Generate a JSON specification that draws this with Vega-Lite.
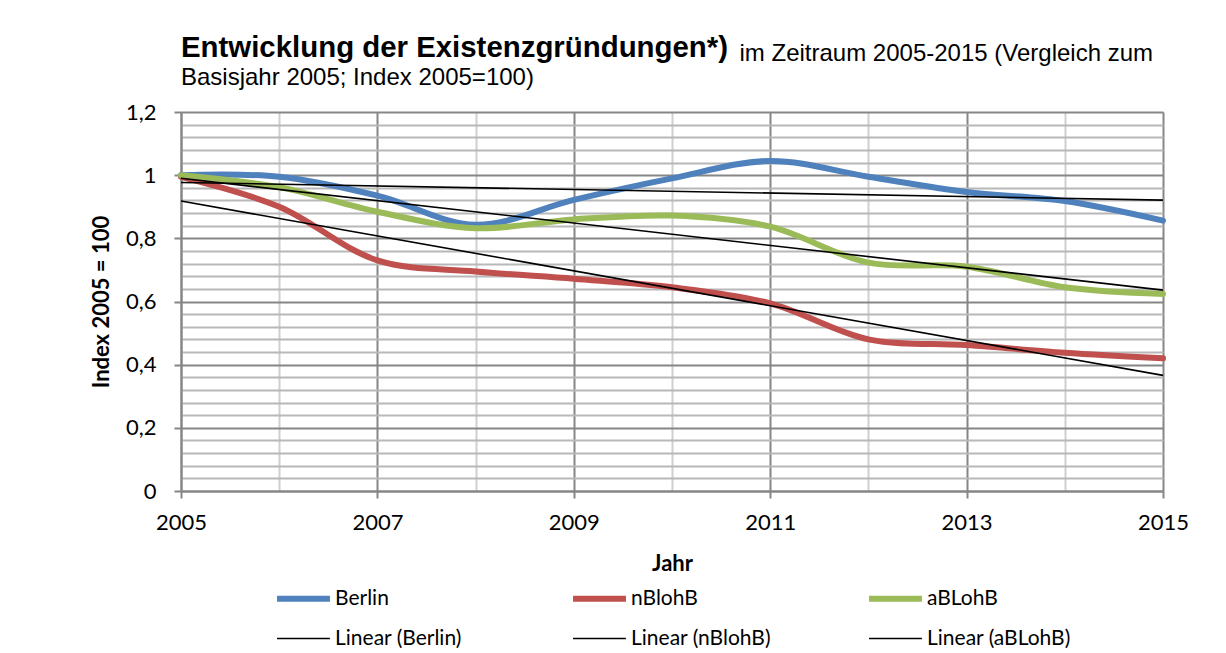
{
  "$schema": "https://vega.github.io/schema/vega-lite/v6.json",
  "width": 982,
  "height": 379,
  "autosize": {"type": "none"},
  "padding": {"left": 181, "top": 112, "right": 63, "bottom": 162},
  "background": "white",
  "title": {
    "text": "Entwicklung der Existenzgründungen*)",
    "subtitle": "Basisjahr 2005; Index 2005=100)",
    "anchor": "start",
    "frame": "group",
    "font": "Liberation Sans",
    "fontSize": 29.4,
    "fontWeight": "bold",
    "color": "#000000",
    "subtitleFont": "Liberation Sans",
    "subtitleFontSize": 24,
    "subtitleColor": "#000000",
    "subtitlePadding": 3,
    "offset": -50
  },
  "datasets": {
    "reihen": [
      {"Jahr": 2005, "Wert": 1.0, "Serie": "Berlin"},
      {"Jahr": 2006, "Wert": 0.995, "Serie": "Berlin"},
      {"Jahr": 2007, "Wert": 0.935, "Serie": "Berlin"},
      {"Jahr": 2008, "Wert": 0.843, "Serie": "Berlin"},
      {"Jahr": 2009, "Wert": 0.922, "Serie": "Berlin"},
      {"Jahr": 2010, "Wert": 0.99, "Serie": "Berlin"},
      {"Jahr": 2011, "Wert": 1.045, "Serie": "Berlin"},
      {"Jahr": 2012, "Wert": 0.995, "Serie": "Berlin"},
      {"Jahr": 2013, "Wert": 0.947, "Serie": "Berlin"},
      {"Jahr": 2014, "Wert": 0.918, "Serie": "Berlin"},
      {"Jahr": 2015, "Wert": 0.856, "Serie": "Berlin"},
      {"Jahr": 2005, "Wert": 0.995, "Serie": "nBlohB"},
      {"Jahr": 2006, "Wert": 0.9, "Serie": "nBlohB"},
      {"Jahr": 2007, "Wert": 0.73, "Serie": "nBlohB"},
      {"Jahr": 2008, "Wert": 0.695, "Serie": "nBlohB"},
      {"Jahr": 2009, "Wert": 0.672, "Serie": "nBlohB"},
      {"Jahr": 2010, "Wert": 0.645, "Serie": "nBlohB"},
      {"Jahr": 2011, "Wert": 0.594, "Serie": "nBlohB"},
      {"Jahr": 2012, "Wert": 0.48, "Serie": "nBlohB"},
      {"Jahr": 2013, "Wert": 0.462, "Serie": "nBlohB"},
      {"Jahr": 2014, "Wert": 0.438, "Serie": "nBlohB"},
      {"Jahr": 2015, "Wert": 0.42, "Serie": "nBlohB"},
      {"Jahr": 2005, "Wert": 1.0, "Serie": "aBLohB"},
      {"Jahr": 2006, "Wert": 0.962, "Serie": "aBLohB"},
      {"Jahr": 2007, "Wert": 0.884, "Serie": "aBLohB"},
      {"Jahr": 2008, "Wert": 0.832, "Serie": "aBLohB"},
      {"Jahr": 2009, "Wert": 0.86, "Serie": "aBLohB"},
      {"Jahr": 2010, "Wert": 0.872, "Serie": "aBLohB"},
      {"Jahr": 2011, "Wert": 0.837, "Serie": "aBLohB"},
      {"Jahr": 2012, "Wert": 0.723, "Serie": "aBLohB"},
      {"Jahr": 2013, "Wert": 0.71, "Serie": "aBLohB"},
      {"Jahr": 2014, "Wert": 0.645, "Serie": "aBLohB"},
      {"Jahr": 2015, "Wert": 0.624, "Serie": "aBLohB"}
    ],
    "trends": [
      {"Jahr": 2005, "Wert": 0.977, "Serie": "Linear (Berlin)"},
      {"Jahr": 2015, "Wert": 0.921, "Serie": "Linear (Berlin)"},
      {"Jahr": 2005, "Wert": 0.918, "Serie": "Linear (nBlohB)"},
      {"Jahr": 2015, "Wert": 0.366, "Serie": "Linear (nBlohB)"},
      {"Jahr": 2005, "Wert": 0.99, "Serie": "Linear (aBLohB)"},
      {"Jahr": 2015, "Wert": 0.636, "Serie": "Linear (aBLohB)"}
    ]
  },
  "encoding": {
    "y": {
      "field": "Wert",
      "type": "quantitative",
      "scale": {"domain": [0, 1.2], "nice": false, "zero": true}
    },
    "color": {
      "field": "Serie",
      "type": "nominal",
      "scale": {
        "domain": ["Berlin", "nBlohB", "aBLohB", "Linear (Berlin)", "Linear (nBlohB)", "Linear (aBLohB)"],
        "range": ["#4F81BD", "#C0504D", "#9BBB59", "#000000", "#000000", "#000000"]
      },
      "legend": {
        "title": null,
        "encode": {
          "symbols": {
            "update": {
              "strokeWidth": {"signal": "datum.index >= 3 ? 1.6 : 6"}
            }
          }
        }
      }
    }
  },
  "layer": [
    {
      "data": {"name": "reihen"},
      "mark": {"type": "line", "interpolate": "catmull-rom", "strokeCap": "round", "strokeJoin": "round", "strokeWidth": 6},
      "encoding": {
        "x": {
          "field": "Jahr",
          "type": "quantitative",
          "scale": {"domain": [2005, 2015], "nice": false, "zero": false},
          "axis": {
            "orient": "bottom",
            "values": [2005, 2006, 2007, 2008, 2009, 2010, 2011, 2012, 2013, 2014, 2015],
            "tickCount": 20,
            "format": "d",
            "labelExpr": "datum.value % 2 == 1 ? datum.label : ''",
            "grid": true,
            "gridColor": {"condition": {"test": "datum.value % 2 == 1", "value": "#868686"}, "value": "#d0d0d0"},
            "gridWidth": 2,
            "tickSize": 7,
            "tickWidth": 2,
            "tickColor": "#868686",
            "tickOpacity": {"condition": {"test": "datum.value % 2 == 1", "value": 1}, "value": 0},
            "domainColor": "#868686",
            "domainWidth": 2,
            "labelFont": "Lato",
            "labelFontSize": 22,
            "labelColor": "#000000",
            "labelPadding": 14,
            "labelFlush": false,
            "labelOverlap": false,
            "title": "Jahr",
            "titleFont": "Lato",
            "titleFontSize": 22,
            "titleFontWeight": "bold",
            "titleColor": "#000000",
            "titlePadding": 20
          }
        },
        "y": {
          "field": "Wert",
          "type": "quantitative",
          "axis": {
            "values": [0, 0.04, 0.08, 0.12, 0.16, 0.2, 0.24, 0.28, 0.32, 0.36, 0.4, 0.44, 0.48, 0.52, 0.56, 0.6, 0.64, 0.68, 0.72, 0.76, 0.8, 0.84, 0.88, 0.92, 0.96, 1.0, 1.04, 1.08, 1.12, 1.16, 1.2],
            "tickCount": 40,
            "labelExpr": "abs(datum.value*5 - round(datum.value*5)) < 0.01 ? replace(format(datum.value, '~g'), '.', ',') : ''",
            "grid": true,
            "gridColor": {"condition": {"test": "abs(datum.value*5 - round(datum.value*5)) < 0.01", "value": "#868686"}, "value": "#b8b8b8"},
            "gridWidth": 2,
            "tickSize": 7,
            "tickWidth": 2,
            "tickColor": "#868686",
            "tickOpacity": {"condition": {"test": "abs(datum.value*5 - round(datum.value*5)) < 0.01", "value": 1}, "value": 0},
            "domainColor": "#868686",
            "domainWidth": 2,
            "labelFont": "Lato",
            "labelFontSize": 22,
            "labelColor": "#000000",
            "labelPadding": 18,
            "labelFlush": false,
            "labelOverlap": false,
            "title": "Index 2005 = 100",
            "titleFont": "Lato",
            "titleFontSize": 22,
            "titleFontWeight": "bold",
            "titleColor": "#000000",
            "titlePadding": 12
          }
        }
      }
    },
    {
      "data": {"name": "trends"},
      "mark": {"type": "line", "interpolate": "linear", "strokeWidth": 1.6},
      "encoding": {
        "x": {
          "field": "Jahr",
          "type": "quantitative",
          "axis": {
            "orient": "top",
            "labels": false,
            "ticks": false,
            "domain": false,
            "grid": false,
            "title": "im Zeitraum 2005-2015 (Vergleich zum",
            "titleFont": "Liberation Sans",
            "titleFontSize": 24,
            "titleFontWeight": "normal",
            "titleColor": "#000000",
            "titleX": 558,
            "titleY": -52,
            "titleAlign": "left",
            "titleAnchor": "start",
            "titleBaseline": "alphabetic",
            "titleAngle": 0
          }
        }
      }
    }
  ],
  "resolve": {"axis": {"x": "independent"}},
  "config": {
    "view": {"stroke": null},
    "legend": {
      "orient": "none",
      "legendX": 112,
      "legendY": 476,
      "direction": "horizontal",
      "columns": 3,
      "gridAlign": "all",
      "columnPadding": 82,
      "rowPadding": 16,
      "symbolType": "stroke",
      "symbolSize": 2800,
      "labelFont": "Lato",
      "labelFontSize": 21,
      "labelColor": "#000000",
      "labelOffset": 21,
      "labelLimit": 300
    }
  }
}
